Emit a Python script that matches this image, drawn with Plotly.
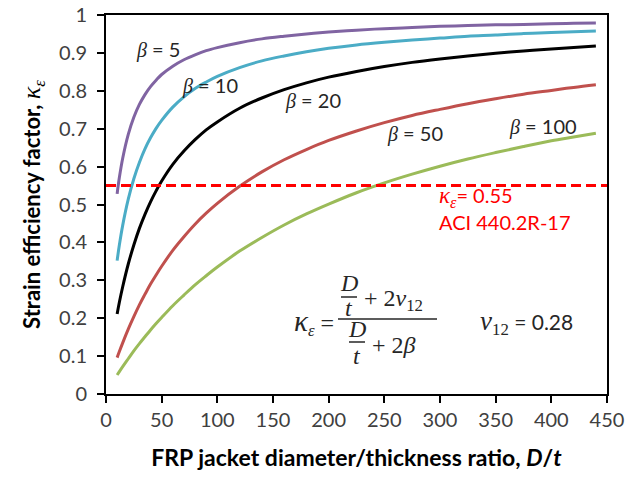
import plotly.graph_objects as go

# ---- data ----
dt = [10, 12, 15, 20, 25, 30, 35, 40, 45, 50, 60, 70, 80, 90, 100, 120, 140, 160, 180, 200,
      225, 250, 275, 300, 325, 350, 375, 400, 420, 440]
k_b5 = [0.528, 0.571, 0.622, 0.685, 0.730, 0.764, 0.790, 0.811, 0.828, 0.843, 0.865, 0.882, 0.895, 0.906, 0.914,
        0.927, 0.937, 0.944, 0.950, 0.955, 0.960, 0.964, 0.967, 0.970, 0.972, 0.974, 0.975, 0.977, 0.978, 0.979]
k_b10 = [0.352, 0.393, 0.445, 0.514, 0.568, 0.611, 0.647, 0.676, 0.701, 0.722, 0.757, 0.784, 0.806, 0.823, 0.838,
         0.861, 0.879, 0.892, 0.903, 0.912, 0.921, 0.928, 0.934, 0.939, 0.944, 0.947, 0.951, 0.954, 0.956, 0.958]
k_b20 = [0.211, 0.242, 0.283, 0.343, 0.393, 0.437, 0.474, 0.507, 0.536, 0.562, 0.606, 0.641, 0.671, 0.697, 0.718,
         0.754, 0.781, 0.803, 0.821, 0.836, 0.851, 0.864, 0.875, 0.884, 0.892, 0.899, 0.905, 0.910, 0.914, 0.918]
k_b50 = [0.096, 0.112, 0.135, 0.171, 0.204, 0.235, 0.263, 0.290, 0.314, 0.337, 0.379, 0.415, 0.448, 0.477, 0.503,
         0.548, 0.586, 0.618, 0.645, 0.669, 0.694, 0.716, 0.735, 0.751, 0.766, 0.779, 0.791, 0.801, 0.809, 0.816]
k_b100 = [0.050, 0.059, 0.072, 0.093, 0.114, 0.133, 0.151, 0.169, 0.186, 0.202, 0.233, 0.261, 0.288, 0.312, 0.335,
          0.377, 0.413, 0.446, 0.475, 0.501, 0.531, 0.557, 0.580, 0.601, 0.620, 0.637, 0.653, 0.668, 0.678, 0.688]
aci_x = [0, 450]
aci_k = [0.55, 0.55]

series = [
    ("β = 5", k_b5, "#8064A2"),
    ("β = 10", k_b10, "#4BACC6"),
    ("β = 20", k_b20, "#000000"),
    ("β = 50", k_b50, "#C0504D"),
    ("β = 100", k_b100, "#9BBB59"),
]

W, H = 626, 478
SX0, SX1, SY0, SY1 = 106, 607, 15, 394  # plot area in pixels
L, T = SX0, SY0
R, B = W - SX1, H - SY1
PW, PH = SX1 - SX0, SY1 - SY0


def px(x):
    return (x - SX0) / PW


def py(y):
    return (SY1 - y) / PH


fig = go.Figure()
for name, ys, col in series:
    fig.add_trace(go.Scatter(x=dt, y=ys, mode="lines", name=name,
                             line=dict(color=col, width=3, shape="spline", smoothing=1.0)))
fig.add_trace(go.Scatter(x=aci_x, y=aci_k, mode="lines", name="ACI",
                         line=dict(color="#FF0000", width=3, dash="10px,5px")))

SANS = "Lato"
SERIF = "Liberation Serif"
TXT = "#262626"
beta = "<span style='font-family:%s'><i>β</i></span>" % SERIF

ann = []


def add(text, x, y, xa="center", size=20, color=TXT, family=SANS):
    ann.append(dict(text=text, x=px(x), y=py(y), xref="paper", yref="paper",
                    xanchor=xa, yanchor="middle", showarrow=False,
                    font=dict(size=size, color=color, family=family)))


# curve labels
add(beta + " = 5", 158, 50)
add(beta + " = 10", 210, 86)
add(beta + " = 20", 313, 101)
add(beta + " = 50", 415, 133)
add(beta + " = 100", 543, 127)

# ACI label
add("<span style='font-family:%s;font-size:23px'><i>κ</i><sub><i>ε</i></sub></span>= 0.55" % SERIF, 437, 197, xa="left", size=20, color="#FF0000")
add("ACI 440.2R-17", 437, 222, xa="left", size=20, color="#FF0000")

# formula
FS = 24
add("<span style='font-size:29px'><i>κ</i></span><sub><i>ε</i></sub> =", 336, 322, xa="right", size=FS, family=SERIF)
add("<i>D</i>", 349, 283, size=FS, family=SERIF)
add("<i>t</i>", 349, 308, size=FS, family=SERIF)
add("+ 2<i>ν</i><sub>12</sub>", 362, 300, xa="left", size=FS, family=SERIF)
add("<i>D</i>", 357, 329, size=FS, family=SERIF)
add("<i>t</i>", 357, 356, size=FS, family=SERIF)
add("+ 2<i>β</i>", 370, 345, xa="left", size=FS, family=SERIF)
add("<span style='font-family:%s;font-size:27px'><i>ν</i></span><span style='font-family:%s;font-size:%dpx'><sub>12</sub></span> = 0.28" % (SERIF, SERIF, FS), 478, 322, xa="left", size=21)

shapes = []


def hline(x0, x1, y, w=1.5):
    shapes.append(dict(type="line", xref="paper", yref="paper", x0=px(x0), x1=px(x1),
                       y0=py(y), y1=py(y), line=dict(color=TXT, width=w)))


hline(338, 437, 319)
hline(341, 357, 297)
hline(349, 365, 342)

fig.update_layout(
    width=W, height=H,
    margin=dict(l=L, r=R, t=T, b=B, autoexpand=False),
    paper_bgcolor="white", plot_bgcolor="white",
    showlegend=False,
    annotations=ann, shapes=shapes,
    font=dict(family=SANS, color="#404040"),
)
fig.update_xaxes(range=[0, 450], dtick=50, tick0=0, showgrid=False, zeroline=False,
                 automargin=False, ticklabeloverflow="allow",
                 showline=True, linecolor="black", linewidth=2, mirror=True,
                 ticks="outside", ticklen=7, tickwidth=2, tickcolor="black",
                 tickfont=dict(size=20, color="#404040", family=SANS),
                 title=dict(text="<b>FRP jacket diameter/thickness ratio, <i>D</i>/<i>t</i></b>",
                            font=dict(size=23, color="black", family=SANS), standoff=20))
fig.update_yaxes(range=[0, 1], dtick=0.1, tick0=0, showgrid=False, zeroline=False,
                 automargin=False, ticklabeloverflow="allow",
                 showline=True, linecolor="black", linewidth=2, mirror=True,
                 ticks="outside", ticklen=7, tickwidth=2, tickcolor="black",
                 ticklabelstandoff=6,
                 tickfont=dict(size=20, color="#404040", family=SANS),
                 title=dict(text="<b>Strain efficiency factor, </b><span style='font-family:%s;font-size:26px'><i>κ</i></span><span style='font-family:%s;font-size:24px'><sub><i>ε</i></sub></span>" % (SERIF, SERIF),
                            font=dict(size=22, color="black", family=SANS), standoff=12))

fig.write_html("out.html", config={"displayModeBar": False},
               post_script="document.body.style.margin='0';document.body.style.overflow='hidden';")
